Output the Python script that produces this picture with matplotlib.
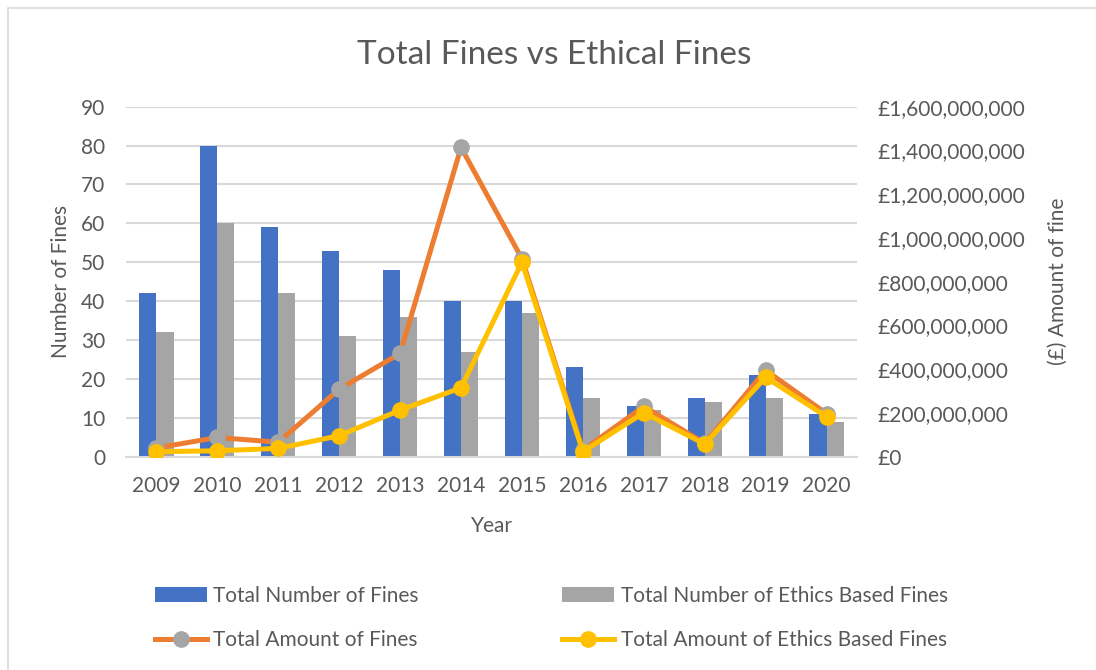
import numpy as np
import matplotlib.pyplot as plt
from matplotlib.ticker import FuncFormatter

plt.rcParams['font.family'] = ['Lato', 'DejaVu Sans']

years = ['2009', '2010', '2011', '2012', '2013', '2014', '2015', '2016', '2017', '2018', '2019', '2020']
total_fines = [42, 80, 59, 53, 48, 40, 40, 23, 13, 15, 21, 11]
ethics_fines = [32, 60, 42, 31, 36, 27, 37, 15, 12, 14, 15, 9]
# amounts in pounds
total_amount = [40e6, 88e6, 66e6, 309e6, 472e6, 1414e6, 905e6, 30e6, 230e6, 61e6, 395e6, 197e6]
ethics_amount = [23e6, 27e6, 38e6, 96e6, 213e6, 315e6, 889e6, 23e6, 201e6, 58e6, 363e6, 183e6]

blue = '#4472C4'
grey = '#A5A5A5'
orange = '#ED7D31'
yellow = '#FFC000'
txt = '#595959'
gridc = '#D9D9D9'

fig = plt.figure(figsize=(10.96, 6.70), dpi=100)
fig.patches.append(plt.Rectangle((8 / 1096, -0.1), 1.2, 1 - 8 / 670 + 0.1, transform=fig.transFigure,
                                 fill=False, edgecolor='#D9D9D9', linewidth=1.2))

ax = fig.add_axes([126 / 1096, 1 - 456.7 / 670, (857 - 126) / 1096, 350 / 670])
x = np.arange(len(years))
w = 0.28
ax.bar(x - w / 2, total_fines, w, color=blue, zorder=2, label='Total Number of Fines')
ax.bar(x + w / 2, ethics_fines, w, color=grey, zorder=2, label='Total Number of Ethics Based Fines')
ax.set_ylim(0, 90)
ax.set_yticks(range(0, 91, 10))
ax.set_xlim(-0.5, len(years) - 0.5)
ax.set_xticks(x)
ax.set_xticklabels(years)
ax.grid(axis='y', color=gridc, linewidth=1.5, zorder=0)
ax.set_axisbelow(True)
for s in ['top', 'right', 'left']:
    ax.spines[s].set_visible(False)
ax.spines['bottom'].set_color(gridc)
ax.spines['bottom'].set_linewidth(1.5)
ax.tick_params(axis='both', length=0, labelsize=15, labelcolor=txt)
ax.tick_params(axis='y', pad=15)
ax.tick_params(axis='x', pad=14)
ax.set_ylabel('Number of Fines', fontsize=15, color=txt, labelpad=7)
ax.set_xlabel('Year', fontsize=15, color=txt, labelpad=14)

ax2 = ax.twinx()
ax2.plot(x, total_amount, color=orange, linewidth=3.6, marker='o', markersize=11,
         markerfacecolor=grey, markeredgecolor=grey, zorder=3, label='Total Amount of Fines')
ax2.plot(x, ethics_amount, color=yellow, linewidth=3.6, marker='o', markersize=11,
         markerfacecolor=yellow, markeredgecolor=yellow, zorder=4, label='Total Amount of Ethics Based Fines')
ax2.set_ylim(0, 1.6e9)
ax2.set_yticks(np.arange(0, 1.6e9 + 1, 2e8))
ax2.yaxis.set_major_formatter(FuncFormatter(lambda v, p: '£{:,.0f}'.format(v)))
for s in ax2.spines.values():
    s.set_visible(False)
ax2.tick_params(axis='y', length=0, labelsize=15, labelcolor=txt, pad=15)
ax2.set_ylabel('(£) Amount of fine', fontsize=15, color=txt, labelpad=16)

fig.suptitle('Total Fines vs Ethical Fines', fontsize=24, color=txt, x=0.506, y=0.94)

h1, l1 = ax.get_legend_handles_labels()
h2, l2 = ax2.get_legend_handles_labels()
handles = [h1[0], h2[0], h1[1], h2[1]]
labels = [l1[0], l2[0], l1[1], l2[1]]
fig.legend(handles, labels, ncol=2, loc='center left', bbox_to_anchor=(136 / 1096, 1 - 618 / 670),
           frameon=False, fontsize=15, labelcolor=txt, handlelength=2.5, handletextpad=0.3,
           columnspacing=6.9, labelspacing=1.15)

fig.savefig('out.png', dpi=100)
